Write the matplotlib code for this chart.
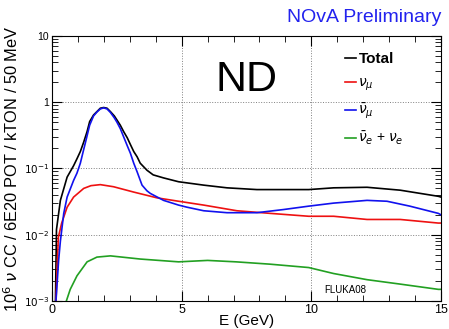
import numpy as np
import matplotlib.pyplot as plt
from matplotlib.ticker import LogLocator, MultipleLocator, FixedLocator

plt.rcParams['font.family'] = ['Liberation Sans', 'DejaVu Sans']
plt.rcParams['mathtext.fontset'] = 'dejavusans'

# values (E in GeV)
total_E = [0.13, 0.17, 0.32, 0.58, 0.83, 0.96, 1.09, 1.22, 1.35, 1.45, 1.6, 1.73, 1.86, 1.99,
           2.12, 2.25, 2.4, 2.5, 2.63, 2.76, 2.9, 3.02, 3.15, 3.28, 3.4, 3.66, 3.9, 4.3, 4.88,
           5.85, 6.75, 7.9, 9.9, 10.86, 12.15, 13.43, 14.9, 15.0]
total = [0.001, 0.012, 0.033, 0.074, 0.11, 0.14, 0.18, 0.25, 0.36, 0.51, 0.64, 0.72, 0.81, 0.83,
         0.81, 0.72, 0.62, 0.54, 0.45, 0.36, 0.29, 0.23, 0.18, 0.15, 0.12, 0.094, 0.08, 0.072, 0.063,
         0.056, 0.051, 0.048, 0.048, 0.051, 0.052, 0.047, 0.038, 0.037]

numu_E = [0.15, 0.24, 0.37, 0.58, 0.83, 1.22, 1.5, 1.86, 2.37, 3.15, 4.05, 4.88, 5.85, 7.13,
          8.42, 9.9, 10.86, 12.15, 13.43, 14.9, 15.0]
numu = [0.001, 0.0091, 0.015, 0.026, 0.037, 0.05, 0.055, 0.057, 0.053, 0.044, 0.036, 0.032, 0.028, 0.023,
        0.021, 0.019, 0.019, 0.017, 0.017, 0.015, 0.015]

numubar_E = [0.15, 0.25, 0.32, 0.45, 0.58, 0.83, 0.96, 1.09, 1.2, 1.28, 1.45, 1.6, 1.73, 1.86, 1.99,
             2.12, 2.25, 2.4, 2.5, 2.63, 2.76, 2.9, 3.02, 3.15, 3.28, 3.47, 3.66, 3.79, 4.3, 4.88,
             5.21, 5.85, 6.75, 7.9, 8.93, 9.9, 10.86, 12.15, 12.92, 13.8, 14.9, 15.0]
numubar = [0.001, 0.004, 0.008, 0.021, 0.037, 0.066, 0.085, 0.12, 0.18, 0.24, 0.45, 0.62, 0.71, 0.79, 0.82,
           0.79, 0.70, 0.58, 0.50, 0.40, 0.30, 0.22, 0.17, 0.12, 0.089, 0.056, 0.046, 0.042, 0.033, 0.028,
           0.026, 0.023, 0.0215, 0.0215, 0.024, 0.027, 0.030, 0.033, 0.032, 0.027, 0.021, 0.020]

nue_E = [0.55, 0.7, 0.96, 1.35, 1.73, 2.25, 3.4, 4.88, 6.0, 7.1, 8.4, 9.9, 10.86, 12.15,
         13.43, 14.9, 15.0]
nue = [0.001, 0.0015, 0.0024, 0.0039, 0.0046, 0.0048, 0.0043, 0.0039, 0.0041, 0.0039, 0.0036, 0.0032,
       0.0026, 0.0021, 0.0018, 0.0015, 0.0015]

ytick_vals = [1e-3, 1e-2, 1e-1, 1, 10]
ytick_labels = [r'$10^{-3}$', r'$10^{-2}$', r'$10^{-1}$', '1', '10']

fig = plt.figure(figsize=(4.49, 3.29), dpi=100)
ax = fig.add_axes([0.116, 0.085, 0.866, 0.806])

ax.plot(total_E, total, color='black', lw=1.2, label='Total')
ax.plot(numu_E, numu, color='#ee1111', lw=1.2, label=r'$\nu_\mu$')
ax.plot(numubar_E, numubar, color='#1111ee', lw=1.2, label=r'$\bar{\nu}_\mu$')
ax.plot(nue_E, nue, color='#22a022', lw=1.2, label=r'$\bar{\nu}_e$ + $\nu_e$')

ax.set_yscale('log')
ax.set_xlim(0, 15)
ax.set_ylim(1e-3, 10)
ax.xaxis.set_major_locator(FixedLocator([0, 5, 10, 15]))
ax.xaxis.set_minor_locator(MultipleLocator(1))
ax.yaxis.set_major_locator(FixedLocator(ytick_vals))
ax.set_yticklabels(ytick_labels)
ax.yaxis.set_minor_locator(LogLocator(base=10, subs=np.arange(2, 10)))
ax.tick_params(which='both', direction='in', top=True, right=True)
ax.tick_params(which='major', length=7, labelsize=9, pad=2)
ax.tick_params(axis='y', which='major', labelsize=7.5)
ax.tick_params(which='minor', length=4)
ax.grid(True, which='major', linestyle=':', color='gray', lw=0.7)

ax.set_xlabel('E (GeV)', fontsize=11, labelpad=-1)
ax.set_ylabel(r'10$^6$ $\nu$ CC / 6E20 POT / kTON / 50 MeV', fontsize=11.8, labelpad=2)

ax.text(0.5, 0.835, 'ND', transform=ax.transAxes, fontsize=31, ha='center', va='center')
ax.text(0.70, 0.04, 'FLUKA08', transform=ax.transAxes, fontsize=7, ha='left', va='center')
fig.text(0.982, 0.948, 'NOvA Preliminary', color='#2222ee', fontsize=14, ha='right', va='center')

leg = ax.legend(loc='upper left', bbox_to_anchor=(0.72, 0.985), frameon=False, fontsize=10,
                handlelength=0.8, handletextpad=0.2, labelspacing=0.65)
leg.get_texts()[0].set_fontweight('bold')
leg.get_texts()[0].set_fontsize(11)

plt.savefig('out.png', dpi=100)
